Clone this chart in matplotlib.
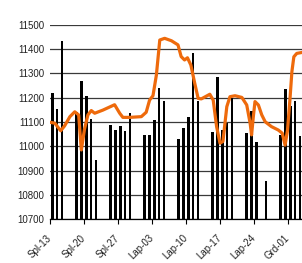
import matplotlib
matplotlib.use("Agg")
import matplotlib.pyplot as plt
import matplotlib.transforms as mtransforms
import numpy as np

# Bar series: trading days (days after 13 Oct) and values
bar_days = [0, 1, 2, 5, 6, 7, 8, 9, 12, 13, 14, 15, 16, 19, 20, 21, 22, 23,
            26, 27, 28, 29, 30, 33, 34, 35, 36, 37, 40, 41, 42, 44, 47, 48, 49, 50, 51]
bar_values = [11218, 11154, 11432, 11142, 11269, 11207, 11111, 10943,
              11086, 11066, 11084, 11063, 11136,
              11045, 11048, 11108, 11240, 11188,
              11031, 11074, 11121, 11382, 11188,
              11058, 11284, 11067, 11097, 11197,
              11054, 11145, 11018, 10858,
              11047, 11236, 11166, 11188, 11044]

# Line series (days after 13 Oct, value)
line_days = [0.0, 1.0, 2.2, 3.0, 4.1, 5.1, 5.9, 6.45, 7.1, 7.8, 8.5, 9.2, 10.9,
             13.3, 14.35, 15.0, 16.4, 18.8, 19.8, 20.5, 21.2, 21.9, 22.6, 23.6,
             25.0, 26.35, 27.0, 27.7, 28.3, 29.0, 29.8, 30.5, 31.15, 32.9, 33.6,
             34.3, 35.0, 35.6, 36.4, 37.05, 38.1, 39.5, 40.5, 41.2, 41.5, 41.85,
             42.2, 42.9, 43.6, 44.3, 45.6, 47.0, 47.8, 48.4, 48.9, 49.4, 49.8,
             50.2, 50.8, 51.9]
line_values = [11099, 11095, 11064, 11084, 11122, 11142, 11129, 10985, 11070, 11129,
               11147, 11136, 11149, 11171, 11136, 11119, 11119, 11122, 11140, 11190,
               11208, 11293, 11437, 11444, 11434, 11417, 11369, 11355, 11364, 11334,
               11259, 11197, 11195, 11214, 11190, 11081, 11013, 11020, 11163, 11204,
               11208, 11201, 11170, 11095, 11047, 11120, 11184, 11170, 11129, 11101,
               11081, 11067, 11054, 11005, 11067, 11193, 11307, 11368, 11382, 11386]

tick_days = [0, 7, 14, 21, 28, 35, 42, 49]
tick_labels = ['Spl-13', 'Spl-20', 'Spl-27', 'Lap-03', 'Lap-10', 'Lap-17', 'Lap-24', 'Grd-01']
y_ticks = [10700, 10800, 10900, 11000, 11100, 11200, 11300, 11400, 11500]

plt.rcParams['font.family'] = ['Liberation Sans', 'DejaVu Sans']

fig = plt.figure(figsize=(3.02, 2.63), dpi=100)
ax = fig.add_axes([50/302, 43.7/263, 1 - 50/302, (219.3 - 24.7)/263])

ax.set_axisbelow(True)
ax.yaxis.grid(True, color='#3a3a3a', linewidth=0.9)
ax.bar(np.array(bar_days) + 0.45, np.array(bar_values) - 10700, bottom=10700,
       width=0.55, color='black', zorder=2)
ax.plot(line_days, line_values, color='#EE6A0C', linewidth=2.3,
        solid_joinstyle='round', solid_capstyle='round', zorder=3)

ax.set_xlim(0, 51.88)
ax.set_ylim(10700, 11500)
ax.set_yticks(y_ticks)
ax.set_yticklabels([str(v) for v in y_ticks], fontsize=7, color='#222222')
ax.set_xticks(tick_days)
ax.set_xticklabels(tick_labels, fontsize=7, color='#222222', rotation=45,
                   ha='right', va='center', rotation_mode='anchor')

offset = mtransforms.ScaledTranslation(-4 / 100, 0, fig.dpi_scale_trans)
for lab in ax.get_xticklabels():
    lab.set_transform(lab.get_transform() + offset)

for s in ['top', 'right', 'left']:
    ax.spines[s].set_visible(False)
ax.spines['bottom'].set_color('black')
ax.spines['bottom'].set_linewidth(0.9)
ax.tick_params(axis='y', length=0, pad=4)
ax.tick_params(axis='x', length=3.5, width=0.8, color='black', pad=9)

fig.savefig('out.png', dpi=100)
